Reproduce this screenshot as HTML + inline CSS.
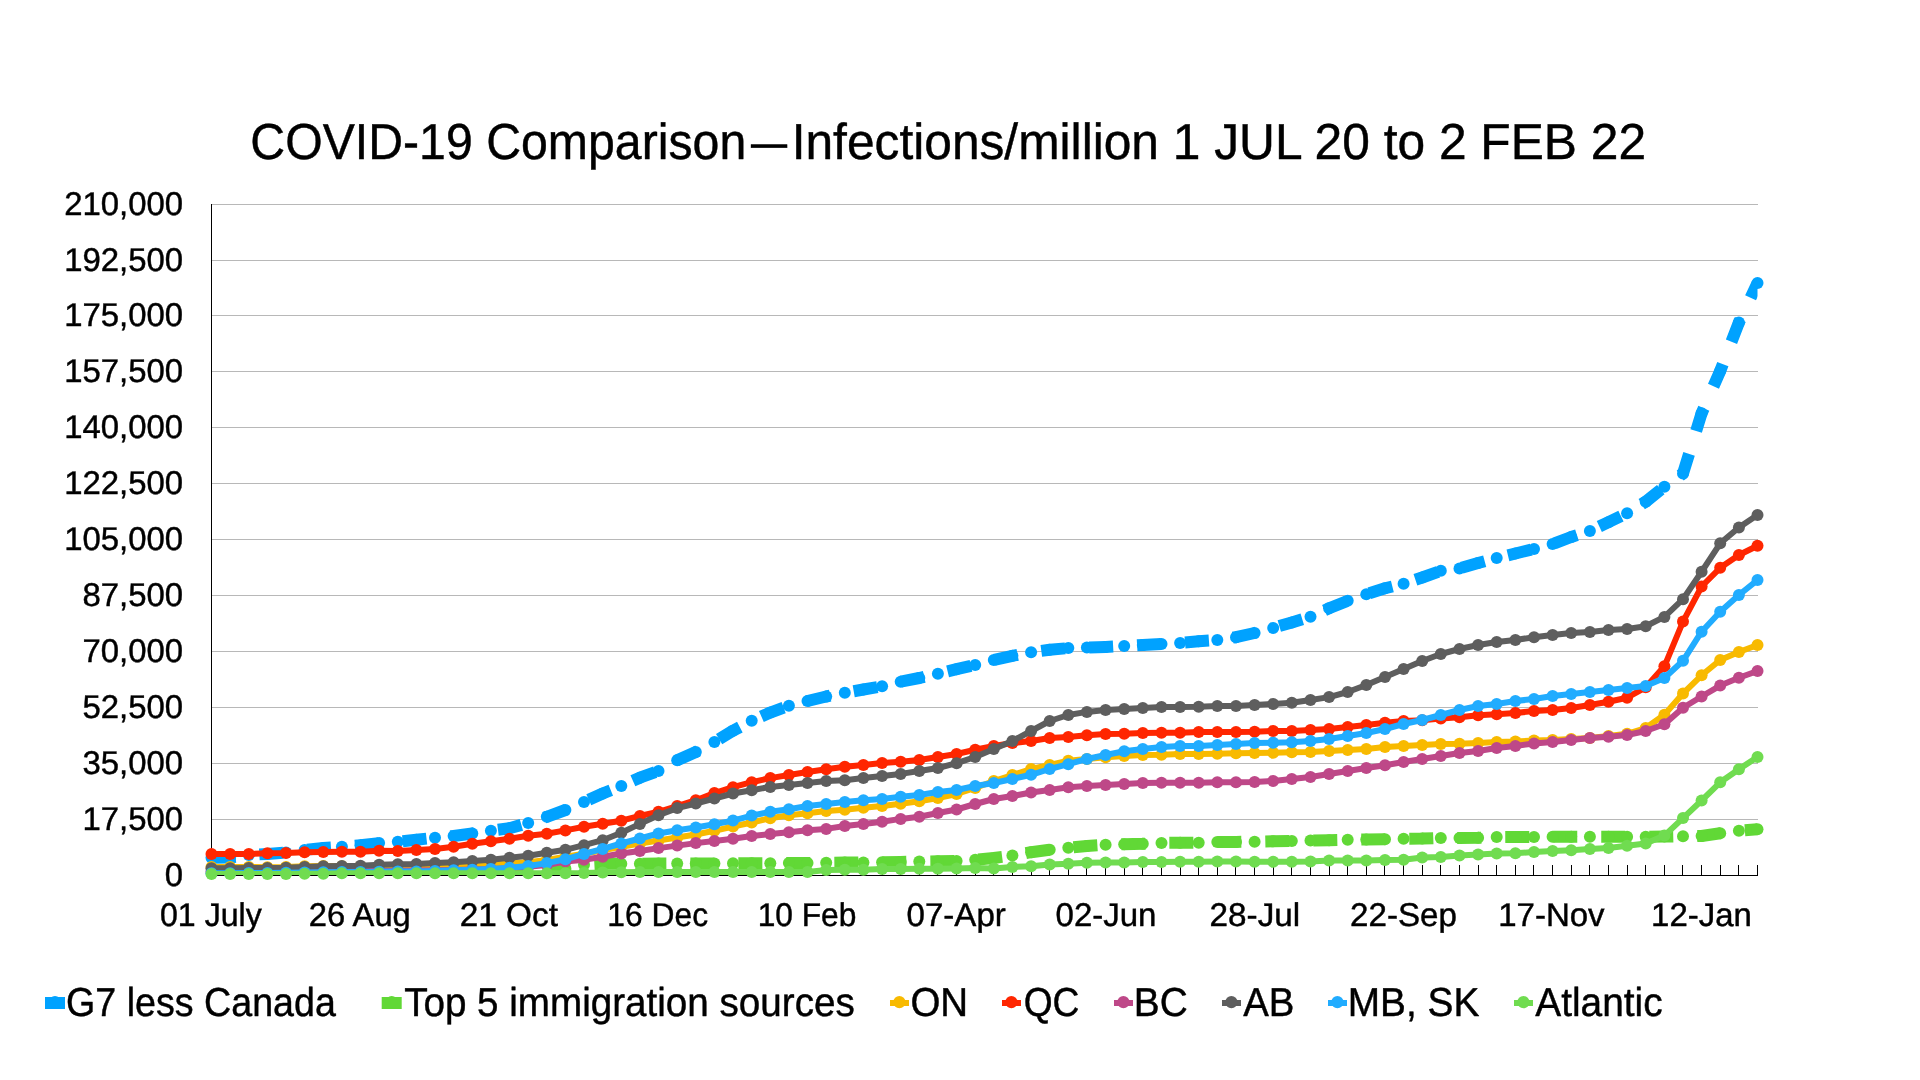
<!DOCTYPE html>
<html lang="en"><head><meta charset="utf-8"><title>COVID-19 Comparison</title>
<style>html,body{margin:0;padding:0;background:#fff}body{width:1920px;height:1080px;overflow:hidden}svg{display:block;will-change:transform;-webkit-font-smoothing:antialiased}text{font-family:"Liberation Sans",Arial,Helvetica,sans-serif;fill:#000;stroke:#000;stroke-width:.45px;stroke-linejoin:round;text-rendering:geometricPrecision}</style></head><body>
<svg width="1920" height="1080" viewBox="0 0 1920 1080">
<rect width="1920" height="1080" fill="#fff"/>
<text transform="translate(250.30,159.1) scale(0.9516,1)" font-size="50.7">COVID-19 Comparison</text>
<text transform="translate(751.00,159.1) scale(0.7122,1)" font-size="50.7">—</text>
<text transform="translate(791.66,159.1) scale(0.9804,1)" font-size="50.7">Infections/million 1 JUL 20 to 2 FEB 22</text>
<g fill="#b8b8b8" shape-rendering="crispEdges">
<rect x="212" y="204" width="1546" height="1"/>
<rect x="212" y="260" width="1546" height="1"/>
<rect x="212" y="315" width="1546" height="1"/>
<rect x="212" y="371" width="1546" height="1"/>
<rect x="212" y="427" width="1546" height="1"/>
<rect x="212" y="483" width="1546" height="1"/>
<rect x="212" y="539" width="1546" height="1"/>
<rect x="212" y="595" width="1546" height="1"/>
<rect x="212" y="651" width="1546" height="1"/>
<rect x="212" y="707" width="1546" height="1"/>
<rect x="212" y="763" width="1546" height="1"/>
<rect x="212" y="819" width="1546" height="1"/>
</g>
<text x="64.19" y="215.1" font-size="32.9">210,000</text>
<text x="64.19" y="271.1" font-size="32.9">192,500</text>
<text x="64.19" y="326.1" font-size="32.9">175,000</text>
<text x="64.19" y="382.1" font-size="32.9">157,500</text>
<text x="64.19" y="438.1" font-size="32.9">140,000</text>
<text x="64.19" y="494.1" font-size="32.9">122,500</text>
<text x="64.19" y="550.1" font-size="32.9">105,000</text>
<text x="82.49" y="606.1" font-size="32.9">87,500</text>
<text x="82.49" y="662.1" font-size="32.9">70,000</text>
<text x="82.49" y="718.1" font-size="32.9">52,500</text>
<text x="82.49" y="774.1" font-size="32.9">35,000</text>
<text x="82.49" y="830.1" font-size="32.9">17,500</text>
<text x="164.79" y="886.1" font-size="32.9">0</text>
<g fill="#000" shape-rendering="crispEdges">
<rect x="211" y="204" width="1" height="672"/>
<rect x="211" y="875" width="1547" height="1"/>
<rect x="230" y="865" width="1" height="10"/>
<rect x="248" y="865" width="1" height="10"/>
<rect x="267" y="865" width="1" height="10"/>
<rect x="286" y="865" width="1" height="10"/>
<rect x="304" y="865" width="1" height="10"/>
<rect x="323" y="865" width="1" height="10"/>
<rect x="341" y="865" width="1" height="10"/>
<rect x="360" y="865" width="1" height="10"/>
<rect x="379" y="865" width="1" height="10"/>
<rect x="397" y="865" width="1" height="10"/>
<rect x="416" y="865" width="1" height="10"/>
<rect x="435" y="865" width="1" height="10"/>
<rect x="453" y="865" width="1" height="10"/>
<rect x="472" y="865" width="1" height="10"/>
<rect x="490" y="865" width="1" height="10"/>
<rect x="509" y="865" width="1" height="10"/>
<rect x="528" y="865" width="1" height="10"/>
<rect x="546" y="865" width="1" height="10"/>
<rect x="565" y="865" width="1" height="10"/>
<rect x="584" y="865" width="1" height="10"/>
<rect x="602" y="865" width="1" height="10"/>
<rect x="621" y="865" width="1" height="10"/>
<rect x="639" y="865" width="1" height="10"/>
<rect x="658" y="865" width="1" height="10"/>
<rect x="677" y="865" width="1" height="10"/>
<rect x="695" y="865" width="1" height="10"/>
<rect x="714" y="865" width="1" height="10"/>
<rect x="733" y="865" width="1" height="10"/>
<rect x="751" y="865" width="1" height="10"/>
<rect x="770" y="865" width="1" height="10"/>
<rect x="788" y="865" width="1" height="10"/>
<rect x="807" y="865" width="1" height="10"/>
<rect x="826" y="865" width="1" height="10"/>
<rect x="844" y="865" width="1" height="10"/>
<rect x="863" y="865" width="1" height="10"/>
<rect x="882" y="865" width="1" height="10"/>
<rect x="900" y="865" width="1" height="10"/>
<rect x="919" y="865" width="1" height="10"/>
<rect x="937" y="865" width="1" height="10"/>
<rect x="956" y="865" width="1" height="10"/>
<rect x="975" y="865" width="1" height="10"/>
<rect x="993" y="865" width="1" height="10"/>
<rect x="1012" y="865" width="1" height="10"/>
<rect x="1031" y="865" width="1" height="10"/>
<rect x="1049" y="865" width="1" height="10"/>
<rect x="1068" y="865" width="1" height="10"/>
<rect x="1086" y="865" width="1" height="10"/>
<rect x="1105" y="865" width="1" height="10"/>
<rect x="1124" y="865" width="1" height="10"/>
<rect x="1142" y="865" width="1" height="10"/>
<rect x="1161" y="865" width="1" height="10"/>
<rect x="1180" y="865" width="1" height="10"/>
<rect x="1198" y="865" width="1" height="10"/>
<rect x="1217" y="865" width="1" height="10"/>
<rect x="1235" y="865" width="1" height="10"/>
<rect x="1254" y="865" width="1" height="10"/>
<rect x="1273" y="865" width="1" height="10"/>
<rect x="1291" y="865" width="1" height="10"/>
<rect x="1310" y="865" width="1" height="10"/>
<rect x="1329" y="865" width="1" height="10"/>
<rect x="1347" y="865" width="1" height="10"/>
<rect x="1366" y="865" width="1" height="10"/>
<rect x="1384" y="865" width="1" height="10"/>
<rect x="1403" y="865" width="1" height="10"/>
<rect x="1422" y="865" width="1" height="10"/>
<rect x="1440" y="865" width="1" height="10"/>
<rect x="1459" y="865" width="1" height="10"/>
<rect x="1478" y="865" width="1" height="10"/>
<rect x="1496" y="865" width="1" height="10"/>
<rect x="1515" y="865" width="1" height="10"/>
<rect x="1533" y="865" width="1" height="10"/>
<rect x="1552" y="865" width="1" height="10"/>
<rect x="1571" y="865" width="1" height="10"/>
<rect x="1589" y="865" width="1" height="10"/>
<rect x="1608" y="865" width="1" height="10"/>
<rect x="1627" y="865" width="1" height="10"/>
<rect x="1645" y="865" width="1" height="10"/>
<rect x="1664" y="865" width="1" height="10"/>
<rect x="1682" y="865" width="1" height="10"/>
<rect x="1701" y="865" width="1" height="10"/>
<rect x="1720" y="865" width="1" height="10"/>
<rect x="1738" y="865" width="1" height="10"/>
<rect x="1757" y="865" width="1" height="10"/>
</g>
<text transform="translate(159.99,926) scale(0.9770,1)" font-size="32.9">01 July</text>
<text transform="translate(308.87,926) scale(0.9953,1)" font-size="32.9">26 Aug</text>
<text transform="translate(459.72,926) scale(1.0132,1)" font-size="32.9">21 Oct</text>
<text transform="translate(607.36,926) scale(0.9669,1)" font-size="32.9">16 Dec</text>
<text transform="translate(757.63,926) scale(0.9644,1)" font-size="32.9">10 Feb</text>
<text transform="translate(906.52,926) scale(1.0063,1)" font-size="32.9">07-Apr</text>
<text transform="translate(1055.53,926) scale(1.0037,1)" font-size="32.9">02-Jun</text>
<text transform="translate(1209.53,926) scale(1.0119,1)" font-size="32.9">28-Jul</text>
<text transform="translate(1350.06,926) scale(1.0071,1)" font-size="32.9">22-Sep</text>
<text transform="translate(1498.19,926) scale(1.0038,1)" font-size="32.9">17-Nov</text>
<text transform="translate(1651.06,926) scale(1.0018,1)" font-size="32.9">12-Jan</text>
<clipPath id="pc"><rect x="211.5" y="184.5" width="1546.0" height="690.5"/></clipPath>
<g fill="#00a2ff"><polyline points="211.5,857.7 230.1,857.5 248.8,855.0 267.4,853.9 286.0,852.5 304.6,849.9 323.3,848.0 341.9,846.8 360.5,845.3 379.1,843.1 397.8,841.8 416.4,839.8 435.0,837.7 453.6,836.0 472.3,833.5 490.9,830.7 509.5,828.3 528.2,822.9 546.8,816.8 565.4,810.0 584.0,802.0 602.7,793.5 621.3,786.0 639.9,777.7 658.5,771.0 677.2,760.3 695.8,752.0 714.4,742.0 733.0,730.7 751.7,720.8 770.3,712.6 788.9,705.8 807.5,701.0 826.2,696.5 844.8,692.8 863.4,689.5 882.1,686.2 900.7,681.7 919.3,678.0 937.9,673.8 956.6,669.2 975.2,665.0 993.8,660.0 1012.4,655.8 1031.1,652.2 1049.7,649.7 1068.3,648.1 1086.9,647.6 1105.6,647.0 1124.2,646.0 1142.8,644.9 1161.5,644.0 1180.1,642.9 1198.7,641.3 1217.3,640.0 1236.0,637.2 1254.6,633.0 1273.2,627.9 1291.8,622.4 1310.5,616.7 1329.1,608.3 1347.7,600.8 1366.3,594.2 1385.0,588.3 1403.6,583.7 1422.2,577.5 1440.8,570.8 1459.5,568.5 1478.1,563.0 1496.7,558.0 1515.4,553.5 1534.0,549.0 1552.6,544.0 1571.2,537.0 1589.9,531.0 1608.5,522.2 1627.1,513.2 1645.7,501.7 1664.4,486.7 1683.0,473.5 1701.6,413.3 1720.2,371.0 1738.9,322.5 1757.5,283.1" fill="none" stroke="#00a2ff" stroke-width="12" stroke-linejoin="round" stroke-dasharray="24 24" clip-path="url(#pc)"/>
<circle cx="211.5" cy="857.7" r="6"/><circle cx="230.1" cy="857.5" r="6"/><circle cx="248.8" cy="855.0" r="6"/><circle cx="267.4" cy="853.9" r="6"/><circle cx="286.0" cy="852.5" r="6"/><circle cx="304.6" cy="849.9" r="6"/><circle cx="323.3" cy="848.0" r="6"/><circle cx="341.9" cy="846.8" r="6"/><circle cx="360.5" cy="845.3" r="6"/><circle cx="379.1" cy="843.1" r="6"/><circle cx="397.8" cy="841.8" r="6"/><circle cx="416.4" cy="839.8" r="6"/><circle cx="435.0" cy="837.7" r="6"/><circle cx="453.6" cy="836.0" r="6"/><circle cx="472.3" cy="833.5" r="6"/><circle cx="490.9" cy="830.7" r="6"/><circle cx="509.5" cy="828.3" r="6"/><circle cx="528.2" cy="822.9" r="6"/><circle cx="546.8" cy="816.8" r="6"/><circle cx="565.4" cy="810.0" r="6"/><circle cx="584.0" cy="802.0" r="6"/><circle cx="602.7" cy="793.5" r="6"/><circle cx="621.3" cy="786.0" r="6"/><circle cx="639.9" cy="777.7" r="6"/><circle cx="658.5" cy="771.0" r="6"/><circle cx="677.2" cy="760.3" r="6"/><circle cx="695.8" cy="752.0" r="6"/><circle cx="714.4" cy="742.0" r="6"/><circle cx="733.0" cy="730.7" r="6"/><circle cx="751.7" cy="720.8" r="6"/><circle cx="770.3" cy="712.6" r="6"/><circle cx="788.9" cy="705.8" r="6"/><circle cx="807.5" cy="701.0" r="6"/><circle cx="826.2" cy="696.5" r="6"/><circle cx="844.8" cy="692.8" r="6"/><circle cx="863.4" cy="689.5" r="6"/><circle cx="882.1" cy="686.2" r="6"/><circle cx="900.7" cy="681.7" r="6"/><circle cx="919.3" cy="678.0" r="6"/><circle cx="937.9" cy="673.8" r="6"/><circle cx="956.6" cy="669.2" r="6"/><circle cx="975.2" cy="665.0" r="6"/><circle cx="993.8" cy="660.0" r="6"/><circle cx="1012.4" cy="655.8" r="6"/><circle cx="1031.1" cy="652.2" r="6"/><circle cx="1049.7" cy="649.7" r="6"/><circle cx="1068.3" cy="648.1" r="6"/><circle cx="1086.9" cy="647.6" r="6"/><circle cx="1105.6" cy="647.0" r="6"/><circle cx="1124.2" cy="646.0" r="6"/><circle cx="1142.8" cy="644.9" r="6"/><circle cx="1161.5" cy="644.0" r="6"/><circle cx="1180.1" cy="642.9" r="6"/><circle cx="1198.7" cy="641.3" r="6"/><circle cx="1217.3" cy="640.0" r="6"/><circle cx="1236.0" cy="637.2" r="6"/><circle cx="1254.6" cy="633.0" r="6"/><circle cx="1273.2" cy="627.9" r="6"/><circle cx="1291.8" cy="622.4" r="6"/><circle cx="1310.5" cy="616.7" r="6"/><circle cx="1329.1" cy="608.3" r="6"/><circle cx="1347.7" cy="600.8" r="6"/><circle cx="1366.3" cy="594.2" r="6"/><circle cx="1385.0" cy="588.3" r="6"/><circle cx="1403.6" cy="583.7" r="6"/><circle cx="1422.2" cy="577.5" r="6"/><circle cx="1440.8" cy="570.8" r="6"/><circle cx="1459.5" cy="568.5" r="6"/><circle cx="1478.1" cy="563.0" r="6"/><circle cx="1496.7" cy="558.0" r="6"/><circle cx="1515.4" cy="553.5" r="6"/><circle cx="1534.0" cy="549.0" r="6"/><circle cx="1552.6" cy="544.0" r="6"/><circle cx="1571.2" cy="537.0" r="6"/><circle cx="1589.9" cy="531.0" r="6"/><circle cx="1608.5" cy="522.2" r="6"/><circle cx="1627.1" cy="513.2" r="6"/><circle cx="1645.7" cy="501.7" r="6"/><circle cx="1664.4" cy="486.7" r="6"/><circle cx="1683.0" cy="473.5" r="6"/><circle cx="1701.6" cy="413.3" r="6"/><circle cx="1720.2" cy="371.0" r="6"/><circle cx="1738.9" cy="322.5" r="6"/><circle cx="1757.5" cy="283.1" r="6"/>
</g>
<g fill="#61d836"><polyline points="211.5,875.5 230.1,875.5 248.8,875.5 267.4,875.5 286.0,875.5 304.6,875.5 323.3,875.5 341.9,875.5 360.5,875.5 379.1,875.5 397.8,875.5 416.4,875.5 435.0,875.5 453.6,875.5 472.3,875.5 490.9,875.5 509.5,875.5 528.2,875.5 546.8,873.5 565.4,868.8 584.0,864.8 602.7,863.8 621.3,863.8 639.9,863.7 658.5,863.6 677.2,863.5 695.8,863.5 714.4,863.4 733.0,863.3 751.7,863.2 770.3,863.2 788.9,863.1 807.5,863.0 826.2,862.8 844.8,862.6 863.4,862.4 882.1,862.2 900.7,861.9 919.3,861.5 937.9,861.3 956.6,861.0 975.2,859.8 993.8,858.0 1012.4,855.6 1031.1,852.2 1049.7,849.8 1068.3,847.8 1086.9,846.0 1105.6,844.8 1124.2,844.2 1142.8,843.8 1161.5,842.9 1180.1,842.8 1198.7,842.7 1217.3,842.0 1236.0,841.9 1254.6,841.7 1273.2,841.3 1291.8,841.0 1310.5,840.6 1329.1,840.2 1347.7,839.8 1366.3,839.5 1385.0,839.3 1403.6,838.8 1422.2,838.6 1440.8,837.9 1459.5,837.9 1478.1,837.8 1496.7,837.0 1515.4,836.9 1534.0,836.9 1552.6,836.7 1571.2,836.7 1589.9,836.7 1608.5,836.7 1627.1,836.7 1645.7,836.7 1664.4,836.6 1683.0,836.2 1701.6,836.0 1720.2,833.2 1738.9,830.7 1757.5,829.3" fill="none" stroke="#61d836" stroke-width="12" stroke-linejoin="round" stroke-dasharray="24 24" clip-path="url(#pc)"/>
<circle cx="565.4" cy="868.8" r="6"/><circle cx="584.0" cy="864.8" r="6"/><circle cx="602.7" cy="863.8" r="6"/><circle cx="621.3" cy="863.8" r="6"/><circle cx="639.9" cy="863.7" r="6"/><circle cx="658.5" cy="863.6" r="6"/><circle cx="677.2" cy="863.5" r="6"/><circle cx="695.8" cy="863.5" r="6"/><circle cx="714.4" cy="863.4" r="6"/><circle cx="733.0" cy="863.3" r="6"/><circle cx="751.7" cy="863.2" r="6"/><circle cx="770.3" cy="863.2" r="6"/><circle cx="788.9" cy="863.1" r="6"/><circle cx="807.5" cy="863.0" r="6"/><circle cx="826.2" cy="862.8" r="6"/><circle cx="844.8" cy="862.6" r="6"/><circle cx="863.4" cy="862.4" r="6"/><circle cx="882.1" cy="862.2" r="6"/><circle cx="900.7" cy="861.9" r="6"/><circle cx="919.3" cy="861.5" r="6"/><circle cx="937.9" cy="861.3" r="6"/><circle cx="956.6" cy="861.0" r="6"/><circle cx="975.2" cy="859.8" r="6"/><circle cx="993.8" cy="858.0" r="6"/><circle cx="1012.4" cy="855.6" r="6"/><circle cx="1031.1" cy="852.2" r="6"/><circle cx="1049.7" cy="849.8" r="6"/><circle cx="1068.3" cy="847.8" r="6"/><circle cx="1086.9" cy="846.0" r="6"/><circle cx="1105.6" cy="844.8" r="6"/><circle cx="1124.2" cy="844.2" r="6"/><circle cx="1142.8" cy="843.8" r="6"/><circle cx="1161.5" cy="842.9" r="6"/><circle cx="1180.1" cy="842.8" r="6"/><circle cx="1198.7" cy="842.7" r="6"/><circle cx="1217.3" cy="842.0" r="6"/><circle cx="1236.0" cy="841.9" r="6"/><circle cx="1254.6" cy="841.7" r="6"/><circle cx="1273.2" cy="841.3" r="6"/><circle cx="1291.8" cy="841.0" r="6"/><circle cx="1310.5" cy="840.6" r="6"/><circle cx="1329.1" cy="840.2" r="6"/><circle cx="1347.7" cy="839.8" r="6"/><circle cx="1366.3" cy="839.5" r="6"/><circle cx="1385.0" cy="839.3" r="6"/><circle cx="1403.6" cy="838.8" r="6"/><circle cx="1422.2" cy="838.6" r="6"/><circle cx="1440.8" cy="837.9" r="6"/><circle cx="1459.5" cy="837.9" r="6"/><circle cx="1478.1" cy="837.8" r="6"/><circle cx="1496.7" cy="837.0" r="6"/><circle cx="1515.4" cy="836.9" r="6"/><circle cx="1534.0" cy="836.9" r="6"/><circle cx="1552.6" cy="836.7" r="6"/><circle cx="1571.2" cy="836.7" r="6"/><circle cx="1589.9" cy="836.7" r="6"/><circle cx="1608.5" cy="836.7" r="6"/><circle cx="1627.1" cy="836.7" r="6"/><circle cx="1645.7" cy="836.7" r="6"/><circle cx="1664.4" cy="836.6" r="6"/><circle cx="1683.0" cy="836.2" r="6"/><circle cx="1701.6" cy="836.0" r="6"/><circle cx="1720.2" cy="833.2" r="6"/><circle cx="1738.9" cy="830.7" r="6"/><circle cx="1757.5" cy="829.3" r="6"/>
</g>
<g fill="#f8ba00"><polyline points="211.5,867.0 230.1,867.0 248.8,867.0 267.4,867.2 286.0,867.0 304.6,866.3 323.3,866.0 341.9,866.3 360.5,866.5 379.1,866.5 397.8,866.5 416.4,866.3 435.0,866.0 453.6,865.2 472.3,864.5 490.9,863.9 509.5,863.3 528.2,862.2 546.8,860.0 565.4,856.8 584.0,853.8 602.7,850.3 621.3,846.8 639.9,843.5 658.5,840.5 677.2,837.5 695.8,834.5 714.4,830.8 733.0,826.5 751.7,822.5 770.3,818.2 788.9,815.2 807.5,813.2 826.2,811.1 844.8,809.8 863.4,807.8 882.1,806.1 900.7,803.8 919.3,801.2 937.9,798.0 956.6,794.0 975.2,788.0 993.8,781.0 1012.4,775.0 1031.1,769.0 1049.7,765.0 1068.3,760.8 1086.9,759.0 1105.6,757.3 1124.2,756.0 1142.8,755.0 1161.5,754.8 1180.1,754.0 1198.7,754.0 1217.3,753.8 1236.0,753.2 1254.6,753.0 1273.2,752.8 1291.8,752.2 1310.5,752.0 1329.1,751.0 1347.7,750.0 1366.3,749.0 1385.0,747.0 1403.6,746.0 1422.2,745.0 1440.8,744.0 1459.5,743.8 1478.1,743.0 1496.7,742.0 1515.4,741.5 1534.0,740.5 1552.6,740.0 1571.2,739.0 1589.9,738.0 1608.5,736.0 1627.1,733.8 1645.7,728.0 1664.4,714.8 1683.0,693.5 1701.6,675.3 1720.2,660.0 1738.9,652.0 1757.5,645.0" fill="none" stroke="#f8ba00" stroke-width="6" stroke-linejoin="round" clip-path="url(#pc)"/>
<circle cx="211.5" cy="867.0" r="6"/><circle cx="230.1" cy="867.0" r="6"/><circle cx="248.8" cy="867.0" r="6"/><circle cx="267.4" cy="867.2" r="6"/><circle cx="286.0" cy="867.0" r="6"/><circle cx="304.6" cy="866.3" r="6"/><circle cx="323.3" cy="866.0" r="6"/><circle cx="341.9" cy="866.3" r="6"/><circle cx="360.5" cy="866.5" r="6"/><circle cx="379.1" cy="866.5" r="6"/><circle cx="397.8" cy="866.5" r="6"/><circle cx="416.4" cy="866.3" r="6"/><circle cx="435.0" cy="866.0" r="6"/><circle cx="453.6" cy="865.2" r="6"/><circle cx="472.3" cy="864.5" r="6"/><circle cx="490.9" cy="863.9" r="6"/><circle cx="509.5" cy="863.3" r="6"/><circle cx="528.2" cy="862.2" r="6"/><circle cx="546.8" cy="860.0" r="6"/><circle cx="565.4" cy="856.8" r="6"/><circle cx="584.0" cy="853.8" r="6"/><circle cx="602.7" cy="850.3" r="6"/><circle cx="621.3" cy="846.8" r="6"/><circle cx="639.9" cy="843.5" r="6"/><circle cx="658.5" cy="840.5" r="6"/><circle cx="677.2" cy="837.5" r="6"/><circle cx="695.8" cy="834.5" r="6"/><circle cx="714.4" cy="830.8" r="6"/><circle cx="733.0" cy="826.5" r="6"/><circle cx="751.7" cy="822.5" r="6"/><circle cx="770.3" cy="818.2" r="6"/><circle cx="788.9" cy="815.2" r="6"/><circle cx="807.5" cy="813.2" r="6"/><circle cx="826.2" cy="811.1" r="6"/><circle cx="844.8" cy="809.8" r="6"/><circle cx="863.4" cy="807.8" r="6"/><circle cx="882.1" cy="806.1" r="6"/><circle cx="900.7" cy="803.8" r="6"/><circle cx="919.3" cy="801.2" r="6"/><circle cx="937.9" cy="798.0" r="6"/><circle cx="956.6" cy="794.0" r="6"/><circle cx="975.2" cy="788.0" r="6"/><circle cx="993.8" cy="781.0" r="6"/><circle cx="1012.4" cy="775.0" r="6"/><circle cx="1031.1" cy="769.0" r="6"/><circle cx="1049.7" cy="765.0" r="6"/><circle cx="1068.3" cy="760.8" r="6"/><circle cx="1086.9" cy="759.0" r="6"/><circle cx="1105.6" cy="757.3" r="6"/><circle cx="1124.2" cy="756.0" r="6"/><circle cx="1142.8" cy="755.0" r="6"/><circle cx="1161.5" cy="754.8" r="6"/><circle cx="1180.1" cy="754.0" r="6"/><circle cx="1198.7" cy="754.0" r="6"/><circle cx="1217.3" cy="753.8" r="6"/><circle cx="1236.0" cy="753.2" r="6"/><circle cx="1254.6" cy="753.0" r="6"/><circle cx="1273.2" cy="752.8" r="6"/><circle cx="1291.8" cy="752.2" r="6"/><circle cx="1310.5" cy="752.0" r="6"/><circle cx="1329.1" cy="751.0" r="6"/><circle cx="1347.7" cy="750.0" r="6"/><circle cx="1366.3" cy="749.0" r="6"/><circle cx="1385.0" cy="747.0" r="6"/><circle cx="1403.6" cy="746.0" r="6"/><circle cx="1422.2" cy="745.0" r="6"/><circle cx="1440.8" cy="744.0" r="6"/><circle cx="1459.5" cy="743.8" r="6"/><circle cx="1478.1" cy="743.0" r="6"/><circle cx="1496.7" cy="742.0" r="6"/><circle cx="1515.4" cy="741.5" r="6"/><circle cx="1534.0" cy="740.5" r="6"/><circle cx="1552.6" cy="740.0" r="6"/><circle cx="1571.2" cy="739.0" r="6"/><circle cx="1589.9" cy="738.0" r="6"/><circle cx="1608.5" cy="736.0" r="6"/><circle cx="1627.1" cy="733.8" r="6"/><circle cx="1645.7" cy="728.0" r="6"/><circle cx="1664.4" cy="714.8" r="6"/><circle cx="1683.0" cy="693.5" r="6"/><circle cx="1701.6" cy="675.3" r="6"/><circle cx="1720.2" cy="660.0" r="6"/><circle cx="1738.9" cy="652.0" r="6"/><circle cx="1757.5" cy="645.0" r="6"/>
</g>
<g fill="#ff2600"><polyline points="211.5,853.9 230.1,854.0 248.8,854.0 267.4,853.2 286.0,853.0 304.6,852.2 323.3,852.0 341.9,851.7 360.5,851.7 379.1,850.8 397.8,851.0 416.4,850.0 435.0,848.9 453.6,846.8 472.3,843.8 490.9,841.2 509.5,838.8 528.2,835.8 546.8,833.8 565.4,830.4 584.0,826.7 602.7,823.8 621.3,820.7 639.9,816.0 658.5,811.8 677.2,806.0 695.8,800.2 714.4,793.1 733.0,787.2 751.7,782.2 770.3,778.1 788.9,775.0 807.5,772.0 826.2,769.2 844.8,766.8 863.4,765.0 882.1,763.1 900.7,761.8 919.3,760.0 937.9,757.0 956.6,754.0 975.2,749.8 993.8,746.0 1012.4,743.0 1031.1,741.0 1049.7,738.0 1068.3,737.0 1086.9,735.3 1105.6,734.0 1124.2,733.8 1142.8,733.0 1161.5,732.8 1180.1,732.8 1198.7,732.0 1217.3,732.0 1236.0,732.0 1254.6,731.8 1273.2,731.0 1291.8,731.0 1310.5,730.0 1329.1,729.0 1347.7,727.0 1366.3,725.0 1385.0,722.8 1403.6,721.0 1422.2,720.3 1440.8,718.5 1459.5,717.2 1478.1,715.3 1496.7,714.2 1515.4,713.0 1534.0,711.0 1552.6,710.0 1571.2,708.0 1589.9,705.0 1608.5,701.7 1627.1,697.7 1645.7,687.3 1664.4,666.3 1683.0,621.6 1701.6,586.5 1720.2,567.8 1738.9,555.0 1757.5,545.8" fill="none" stroke="#ff2600" stroke-width="6" stroke-linejoin="round" clip-path="url(#pc)"/>
<circle cx="211.5" cy="853.9" r="6"/><circle cx="230.1" cy="854.0" r="6"/><circle cx="248.8" cy="854.0" r="6"/><circle cx="267.4" cy="853.2" r="6"/><circle cx="286.0" cy="853.0" r="6"/><circle cx="304.6" cy="852.2" r="6"/><circle cx="323.3" cy="852.0" r="6"/><circle cx="341.9" cy="851.7" r="6"/><circle cx="360.5" cy="851.7" r="6"/><circle cx="379.1" cy="850.8" r="6"/><circle cx="397.8" cy="851.0" r="6"/><circle cx="416.4" cy="850.0" r="6"/><circle cx="435.0" cy="848.9" r="6"/><circle cx="453.6" cy="846.8" r="6"/><circle cx="472.3" cy="843.8" r="6"/><circle cx="490.9" cy="841.2" r="6"/><circle cx="509.5" cy="838.8" r="6"/><circle cx="528.2" cy="835.8" r="6"/><circle cx="546.8" cy="833.8" r="6"/><circle cx="565.4" cy="830.4" r="6"/><circle cx="584.0" cy="826.7" r="6"/><circle cx="602.7" cy="823.8" r="6"/><circle cx="621.3" cy="820.7" r="6"/><circle cx="639.9" cy="816.0" r="6"/><circle cx="658.5" cy="811.8" r="6"/><circle cx="677.2" cy="806.0" r="6"/><circle cx="695.8" cy="800.2" r="6"/><circle cx="714.4" cy="793.1" r="6"/><circle cx="733.0" cy="787.2" r="6"/><circle cx="751.7" cy="782.2" r="6"/><circle cx="770.3" cy="778.1" r="6"/><circle cx="788.9" cy="775.0" r="6"/><circle cx="807.5" cy="772.0" r="6"/><circle cx="826.2" cy="769.2" r="6"/><circle cx="844.8" cy="766.8" r="6"/><circle cx="863.4" cy="765.0" r="6"/><circle cx="882.1" cy="763.1" r="6"/><circle cx="900.7" cy="761.8" r="6"/><circle cx="919.3" cy="760.0" r="6"/><circle cx="937.9" cy="757.0" r="6"/><circle cx="956.6" cy="754.0" r="6"/><circle cx="975.2" cy="749.8" r="6"/><circle cx="993.8" cy="746.0" r="6"/><circle cx="1012.4" cy="743.0" r="6"/><circle cx="1031.1" cy="741.0" r="6"/><circle cx="1049.7" cy="738.0" r="6"/><circle cx="1068.3" cy="737.0" r="6"/><circle cx="1086.9" cy="735.3" r="6"/><circle cx="1105.6" cy="734.0" r="6"/><circle cx="1124.2" cy="733.8" r="6"/><circle cx="1142.8" cy="733.0" r="6"/><circle cx="1161.5" cy="732.8" r="6"/><circle cx="1180.1" cy="732.8" r="6"/><circle cx="1198.7" cy="732.0" r="6"/><circle cx="1217.3" cy="732.0" r="6"/><circle cx="1236.0" cy="732.0" r="6"/><circle cx="1254.6" cy="731.8" r="6"/><circle cx="1273.2" cy="731.0" r="6"/><circle cx="1291.8" cy="731.0" r="6"/><circle cx="1310.5" cy="730.0" r="6"/><circle cx="1329.1" cy="729.0" r="6"/><circle cx="1347.7" cy="727.0" r="6"/><circle cx="1366.3" cy="725.0" r="6"/><circle cx="1385.0" cy="722.8" r="6"/><circle cx="1403.6" cy="721.0" r="6"/><circle cx="1422.2" cy="720.3" r="6"/><circle cx="1440.8" cy="718.5" r="6"/><circle cx="1459.5" cy="717.2" r="6"/><circle cx="1478.1" cy="715.3" r="6"/><circle cx="1496.7" cy="714.2" r="6"/><circle cx="1515.4" cy="713.0" r="6"/><circle cx="1534.0" cy="711.0" r="6"/><circle cx="1552.6" cy="710.0" r="6"/><circle cx="1571.2" cy="708.0" r="6"/><circle cx="1589.9" cy="705.0" r="6"/><circle cx="1608.5" cy="701.7" r="6"/><circle cx="1627.1" cy="697.7" r="6"/><circle cx="1645.7" cy="687.3" r="6"/><circle cx="1664.4" cy="666.3" r="6"/><circle cx="1683.0" cy="621.6" r="6"/><circle cx="1701.6" cy="586.5" r="6"/><circle cx="1720.2" cy="567.8" r="6"/><circle cx="1738.9" cy="555.0" r="6"/><circle cx="1757.5" cy="545.8" r="6"/>
</g>
<g fill="#be4888"><polyline points="211.5,871.5 230.1,871.5 248.8,871.5 267.4,871.4 286.0,871.3 304.6,871.3 323.3,871.2 341.9,871.1 360.5,871.0 379.1,870.9 397.8,870.7 416.4,870.5 435.0,870.3 453.6,870.0 472.3,869.6 490.9,869.0 509.5,868.3 528.2,866.7 546.8,865.0 565.4,861.5 584.0,859.8 602.7,856.7 621.3,853.5 639.9,851.0 658.5,848.1 677.2,845.6 695.8,843.1 714.4,841.0 733.0,838.7 751.7,836.0 770.3,834.0 788.9,832.2 807.5,830.2 826.2,828.9 844.8,826.0 863.4,823.9 882.1,821.8 900.7,818.9 919.3,816.8 937.9,813.0 956.6,809.5 975.2,804.0 993.8,799.0 1012.4,796.0 1031.1,792.5 1049.7,790.0 1068.3,787.2 1086.9,786.0 1105.6,785.0 1124.2,784.0 1142.8,783.0 1161.5,782.8 1180.1,782.8 1198.7,782.8 1217.3,782.2 1236.0,782.2 1254.6,782.0 1273.2,781.0 1291.8,779.0 1310.5,777.0 1329.1,774.0 1347.7,771.0 1366.3,768.0 1385.0,765.2 1403.6,762.0 1422.2,759.0 1440.8,756.0 1459.5,753.0 1478.1,751.0 1496.7,748.0 1515.4,746.0 1534.0,743.5 1552.6,742.0 1571.2,740.0 1589.9,738.0 1608.5,736.8 1627.1,735.0 1645.7,731.0 1664.4,724.3 1683.0,707.8 1701.6,696.5 1720.2,685.6 1738.9,677.7 1757.5,671.0" fill="none" stroke="#be4888" stroke-width="6" stroke-linejoin="round" clip-path="url(#pc)"/>
<circle cx="211.5" cy="871.5" r="6"/><circle cx="230.1" cy="871.5" r="6"/><circle cx="248.8" cy="871.5" r="6"/><circle cx="267.4" cy="871.4" r="6"/><circle cx="286.0" cy="871.3" r="6"/><circle cx="304.6" cy="871.3" r="6"/><circle cx="323.3" cy="871.2" r="6"/><circle cx="341.9" cy="871.1" r="6"/><circle cx="360.5" cy="871.0" r="6"/><circle cx="379.1" cy="870.9" r="6"/><circle cx="397.8" cy="870.7" r="6"/><circle cx="416.4" cy="870.5" r="6"/><circle cx="435.0" cy="870.3" r="6"/><circle cx="453.6" cy="870.0" r="6"/><circle cx="472.3" cy="869.6" r="6"/><circle cx="490.9" cy="869.0" r="6"/><circle cx="509.5" cy="868.3" r="6"/><circle cx="528.2" cy="866.7" r="6"/><circle cx="546.8" cy="865.0" r="6"/><circle cx="565.4" cy="861.5" r="6"/><circle cx="584.0" cy="859.8" r="6"/><circle cx="602.7" cy="856.7" r="6"/><circle cx="621.3" cy="853.5" r="6"/><circle cx="639.9" cy="851.0" r="6"/><circle cx="658.5" cy="848.1" r="6"/><circle cx="677.2" cy="845.6" r="6"/><circle cx="695.8" cy="843.1" r="6"/><circle cx="714.4" cy="841.0" r="6"/><circle cx="733.0" cy="838.7" r="6"/><circle cx="751.7" cy="836.0" r="6"/><circle cx="770.3" cy="834.0" r="6"/><circle cx="788.9" cy="832.2" r="6"/><circle cx="807.5" cy="830.2" r="6"/><circle cx="826.2" cy="828.9" r="6"/><circle cx="844.8" cy="826.0" r="6"/><circle cx="863.4" cy="823.9" r="6"/><circle cx="882.1" cy="821.8" r="6"/><circle cx="900.7" cy="818.9" r="6"/><circle cx="919.3" cy="816.8" r="6"/><circle cx="937.9" cy="813.0" r="6"/><circle cx="956.6" cy="809.5" r="6"/><circle cx="975.2" cy="804.0" r="6"/><circle cx="993.8" cy="799.0" r="6"/><circle cx="1012.4" cy="796.0" r="6"/><circle cx="1031.1" cy="792.5" r="6"/><circle cx="1049.7" cy="790.0" r="6"/><circle cx="1068.3" cy="787.2" r="6"/><circle cx="1086.9" cy="786.0" r="6"/><circle cx="1105.6" cy="785.0" r="6"/><circle cx="1124.2" cy="784.0" r="6"/><circle cx="1142.8" cy="783.0" r="6"/><circle cx="1161.5" cy="782.8" r="6"/><circle cx="1180.1" cy="782.8" r="6"/><circle cx="1198.7" cy="782.8" r="6"/><circle cx="1217.3" cy="782.2" r="6"/><circle cx="1236.0" cy="782.2" r="6"/><circle cx="1254.6" cy="782.0" r="6"/><circle cx="1273.2" cy="781.0" r="6"/><circle cx="1291.8" cy="779.0" r="6"/><circle cx="1310.5" cy="777.0" r="6"/><circle cx="1329.1" cy="774.0" r="6"/><circle cx="1347.7" cy="771.0" r="6"/><circle cx="1366.3" cy="768.0" r="6"/><circle cx="1385.0" cy="765.2" r="6"/><circle cx="1403.6" cy="762.0" r="6"/><circle cx="1422.2" cy="759.0" r="6"/><circle cx="1440.8" cy="756.0" r="6"/><circle cx="1459.5" cy="753.0" r="6"/><circle cx="1478.1" cy="751.0" r="6"/><circle cx="1496.7" cy="748.0" r="6"/><circle cx="1515.4" cy="746.0" r="6"/><circle cx="1534.0" cy="743.5" r="6"/><circle cx="1552.6" cy="742.0" r="6"/><circle cx="1571.2" cy="740.0" r="6"/><circle cx="1589.9" cy="738.0" r="6"/><circle cx="1608.5" cy="736.8" r="6"/><circle cx="1627.1" cy="735.0" r="6"/><circle cx="1645.7" cy="731.0" r="6"/><circle cx="1664.4" cy="724.3" r="6"/><circle cx="1683.0" cy="707.8" r="6"/><circle cx="1701.6" cy="696.5" r="6"/><circle cx="1720.2" cy="685.6" r="6"/><circle cx="1738.9" cy="677.7" r="6"/><circle cx="1757.5" cy="671.0" r="6"/>
</g>
<g fill="#5e5e5e"><polyline points="211.5,868.3 230.1,868.2 248.8,868.1 267.4,867.9 286.0,867.7 304.6,867.0 323.3,866.3 341.9,866.0 360.5,865.8 379.1,864.8 397.8,864.2 416.4,863.9 435.0,863.1 453.6,862.2 472.3,861.0 490.9,859.8 509.5,857.7 528.2,855.8 546.8,852.7 565.4,849.8 584.0,845.2 602.7,840.2 621.3,832.7 639.9,823.9 658.5,815.2 677.2,808.1 695.8,803.5 714.4,798.5 733.0,793.5 751.7,790.2 770.3,786.9 788.9,785.0 807.5,783.1 826.2,781.0 844.8,780.2 863.4,778.1 882.1,776.0 900.7,773.9 919.3,771.0 937.9,768.0 956.6,763.2 975.2,757.0 993.8,749.0 1012.4,741.0 1031.1,731.0 1049.7,721.0 1068.3,715.0 1086.9,711.9 1105.6,710.0 1124.2,709.0 1142.8,708.0 1161.5,707.0 1180.1,707.0 1198.7,706.8 1217.3,706.0 1236.0,706.0 1254.6,705.0 1273.2,703.9 1291.8,702.8 1310.5,700.0 1329.1,697.1 1347.7,692.0 1366.3,685.0 1385.0,677.0 1403.6,669.0 1422.2,661.0 1440.8,654.0 1459.5,649.0 1478.1,645.0 1496.7,642.0 1515.4,640.0 1534.0,637.2 1552.6,635.0 1571.2,633.0 1589.9,632.0 1608.5,630.0 1627.1,629.0 1645.7,626.3 1664.4,616.9 1683.0,599.2 1701.6,571.7 1720.2,543.3 1738.9,527.5 1757.5,515.0" fill="none" stroke="#5e5e5e" stroke-width="6" stroke-linejoin="round" clip-path="url(#pc)"/>
<circle cx="211.5" cy="868.3" r="6"/><circle cx="230.1" cy="868.2" r="6"/><circle cx="248.8" cy="868.1" r="6"/><circle cx="267.4" cy="867.9" r="6"/><circle cx="286.0" cy="867.7" r="6"/><circle cx="304.6" cy="867.0" r="6"/><circle cx="323.3" cy="866.3" r="6"/><circle cx="341.9" cy="866.0" r="6"/><circle cx="360.5" cy="865.8" r="6"/><circle cx="379.1" cy="864.8" r="6"/><circle cx="397.8" cy="864.2" r="6"/><circle cx="416.4" cy="863.9" r="6"/><circle cx="435.0" cy="863.1" r="6"/><circle cx="453.6" cy="862.2" r="6"/><circle cx="472.3" cy="861.0" r="6"/><circle cx="490.9" cy="859.8" r="6"/><circle cx="509.5" cy="857.7" r="6"/><circle cx="528.2" cy="855.8" r="6"/><circle cx="546.8" cy="852.7" r="6"/><circle cx="565.4" cy="849.8" r="6"/><circle cx="584.0" cy="845.2" r="6"/><circle cx="602.7" cy="840.2" r="6"/><circle cx="621.3" cy="832.7" r="6"/><circle cx="639.9" cy="823.9" r="6"/><circle cx="658.5" cy="815.2" r="6"/><circle cx="677.2" cy="808.1" r="6"/><circle cx="695.8" cy="803.5" r="6"/><circle cx="714.4" cy="798.5" r="6"/><circle cx="733.0" cy="793.5" r="6"/><circle cx="751.7" cy="790.2" r="6"/><circle cx="770.3" cy="786.9" r="6"/><circle cx="788.9" cy="785.0" r="6"/><circle cx="807.5" cy="783.1" r="6"/><circle cx="826.2" cy="781.0" r="6"/><circle cx="844.8" cy="780.2" r="6"/><circle cx="863.4" cy="778.1" r="6"/><circle cx="882.1" cy="776.0" r="6"/><circle cx="900.7" cy="773.9" r="6"/><circle cx="919.3" cy="771.0" r="6"/><circle cx="937.9" cy="768.0" r="6"/><circle cx="956.6" cy="763.2" r="6"/><circle cx="975.2" cy="757.0" r="6"/><circle cx="993.8" cy="749.0" r="6"/><circle cx="1012.4" cy="741.0" r="6"/><circle cx="1031.1" cy="731.0" r="6"/><circle cx="1049.7" cy="721.0" r="6"/><circle cx="1068.3" cy="715.0" r="6"/><circle cx="1086.9" cy="711.9" r="6"/><circle cx="1105.6" cy="710.0" r="6"/><circle cx="1124.2" cy="709.0" r="6"/><circle cx="1142.8" cy="708.0" r="6"/><circle cx="1161.5" cy="707.0" r="6"/><circle cx="1180.1" cy="707.0" r="6"/><circle cx="1198.7" cy="706.8" r="6"/><circle cx="1217.3" cy="706.0" r="6"/><circle cx="1236.0" cy="706.0" r="6"/><circle cx="1254.6" cy="705.0" r="6"/><circle cx="1273.2" cy="703.9" r="6"/><circle cx="1291.8" cy="702.8" r="6"/><circle cx="1310.5" cy="700.0" r="6"/><circle cx="1329.1" cy="697.1" r="6"/><circle cx="1347.7" cy="692.0" r="6"/><circle cx="1366.3" cy="685.0" r="6"/><circle cx="1385.0" cy="677.0" r="6"/><circle cx="1403.6" cy="669.0" r="6"/><circle cx="1422.2" cy="661.0" r="6"/><circle cx="1440.8" cy="654.0" r="6"/><circle cx="1459.5" cy="649.0" r="6"/><circle cx="1478.1" cy="645.0" r="6"/><circle cx="1496.7" cy="642.0" r="6"/><circle cx="1515.4" cy="640.0" r="6"/><circle cx="1534.0" cy="637.2" r="6"/><circle cx="1552.6" cy="635.0" r="6"/><circle cx="1571.2" cy="633.0" r="6"/><circle cx="1589.9" cy="632.0" r="6"/><circle cx="1608.5" cy="630.0" r="6"/><circle cx="1627.1" cy="629.0" r="6"/><circle cx="1645.7" cy="626.3" r="6"/><circle cx="1664.4" cy="616.9" r="6"/><circle cx="1683.0" cy="599.2" r="6"/><circle cx="1701.6" cy="571.7" r="6"/><circle cx="1720.2" cy="543.3" r="6"/><circle cx="1738.9" cy="527.5" r="6"/><circle cx="1757.5" cy="515.0" r="6"/>
</g>
<g fill="#21acff"><polyline points="211.5,873.3 230.1,873.3 248.8,873.1 267.4,873.0 286.0,872.8 304.6,872.5 323.3,872.2 341.9,872.1 360.5,872.0 379.1,871.8 397.8,871.4 416.4,871.4 435.0,871.0 453.6,870.2 472.3,869.8 490.9,868.9 509.5,867.7 528.2,866.0 546.8,863.1 565.4,859.3 584.0,853.9 602.7,848.9 621.3,843.5 639.9,838.5 658.5,833.5 677.2,830.2 695.8,827.5 714.4,824.3 733.0,820.6 751.7,815.6 770.3,811.8 788.9,809.2 807.5,806.0 826.2,803.9 844.8,802.0 863.4,800.2 882.1,798.9 900.7,796.8 919.3,795.0 937.9,792.0 956.6,790.0 975.2,786.0 993.8,783.0 1012.4,779.0 1031.1,774.8 1049.7,769.0 1068.3,764.2 1086.9,759.0 1105.6,755.0 1124.2,751.2 1142.8,749.0 1161.5,747.0 1180.1,746.0 1198.7,746.0 1217.3,745.0 1236.0,744.0 1254.6,743.0 1273.2,742.7 1291.8,742.2 1310.5,741.0 1329.1,739.0 1347.7,736.0 1366.3,733.0 1385.0,729.0 1403.6,724.0 1422.2,720.0 1440.8,715.0 1459.5,710.0 1478.1,706.0 1496.7,704.0 1515.4,701.0 1534.0,699.0 1552.6,696.0 1571.2,694.0 1589.9,691.9 1608.5,690.0 1627.1,688.0 1645.7,686.0 1664.4,678.0 1683.0,660.8 1701.6,631.7 1720.2,611.7 1738.9,595.0 1757.5,580.0" fill="none" stroke="#21acff" stroke-width="6" stroke-linejoin="round" clip-path="url(#pc)"/>
<circle cx="211.5" cy="873.3" r="6"/><circle cx="230.1" cy="873.3" r="6"/><circle cx="248.8" cy="873.1" r="6"/><circle cx="267.4" cy="873.0" r="6"/><circle cx="286.0" cy="872.8" r="6"/><circle cx="304.6" cy="872.5" r="6"/><circle cx="323.3" cy="872.2" r="6"/><circle cx="341.9" cy="872.1" r="6"/><circle cx="360.5" cy="872.0" r="6"/><circle cx="379.1" cy="871.8" r="6"/><circle cx="397.8" cy="871.4" r="6"/><circle cx="416.4" cy="871.4" r="6"/><circle cx="435.0" cy="871.0" r="6"/><circle cx="453.6" cy="870.2" r="6"/><circle cx="472.3" cy="869.8" r="6"/><circle cx="490.9" cy="868.9" r="6"/><circle cx="509.5" cy="867.7" r="6"/><circle cx="528.2" cy="866.0" r="6"/><circle cx="546.8" cy="863.1" r="6"/><circle cx="565.4" cy="859.3" r="6"/><circle cx="584.0" cy="853.9" r="6"/><circle cx="602.7" cy="848.9" r="6"/><circle cx="621.3" cy="843.5" r="6"/><circle cx="639.9" cy="838.5" r="6"/><circle cx="658.5" cy="833.5" r="6"/><circle cx="677.2" cy="830.2" r="6"/><circle cx="695.8" cy="827.5" r="6"/><circle cx="714.4" cy="824.3" r="6"/><circle cx="733.0" cy="820.6" r="6"/><circle cx="751.7" cy="815.6" r="6"/><circle cx="770.3" cy="811.8" r="6"/><circle cx="788.9" cy="809.2" r="6"/><circle cx="807.5" cy="806.0" r="6"/><circle cx="826.2" cy="803.9" r="6"/><circle cx="844.8" cy="802.0" r="6"/><circle cx="863.4" cy="800.2" r="6"/><circle cx="882.1" cy="798.9" r="6"/><circle cx="900.7" cy="796.8" r="6"/><circle cx="919.3" cy="795.0" r="6"/><circle cx="937.9" cy="792.0" r="6"/><circle cx="956.6" cy="790.0" r="6"/><circle cx="975.2" cy="786.0" r="6"/><circle cx="993.8" cy="783.0" r="6"/><circle cx="1012.4" cy="779.0" r="6"/><circle cx="1031.1" cy="774.8" r="6"/><circle cx="1049.7" cy="769.0" r="6"/><circle cx="1068.3" cy="764.2" r="6"/><circle cx="1086.9" cy="759.0" r="6"/><circle cx="1105.6" cy="755.0" r="6"/><circle cx="1124.2" cy="751.2" r="6"/><circle cx="1142.8" cy="749.0" r="6"/><circle cx="1161.5" cy="747.0" r="6"/><circle cx="1180.1" cy="746.0" r="6"/><circle cx="1198.7" cy="746.0" r="6"/><circle cx="1217.3" cy="745.0" r="6"/><circle cx="1236.0" cy="744.0" r="6"/><circle cx="1254.6" cy="743.0" r="6"/><circle cx="1273.2" cy="742.7" r="6"/><circle cx="1291.8" cy="742.2" r="6"/><circle cx="1310.5" cy="741.0" r="6"/><circle cx="1329.1" cy="739.0" r="6"/><circle cx="1347.7" cy="736.0" r="6"/><circle cx="1366.3" cy="733.0" r="6"/><circle cx="1385.0" cy="729.0" r="6"/><circle cx="1403.6" cy="724.0" r="6"/><circle cx="1422.2" cy="720.0" r="6"/><circle cx="1440.8" cy="715.0" r="6"/><circle cx="1459.5" cy="710.0" r="6"/><circle cx="1478.1" cy="706.0" r="6"/><circle cx="1496.7" cy="704.0" r="6"/><circle cx="1515.4" cy="701.0" r="6"/><circle cx="1534.0" cy="699.0" r="6"/><circle cx="1552.6" cy="696.0" r="6"/><circle cx="1571.2" cy="694.0" r="6"/><circle cx="1589.9" cy="691.9" r="6"/><circle cx="1608.5" cy="690.0" r="6"/><circle cx="1627.1" cy="688.0" r="6"/><circle cx="1645.7" cy="686.0" r="6"/><circle cx="1664.4" cy="678.0" r="6"/><circle cx="1683.0" cy="660.8" r="6"/><circle cx="1701.6" cy="631.7" r="6"/><circle cx="1720.2" cy="611.7" r="6"/><circle cx="1738.9" cy="595.0" r="6"/><circle cx="1757.5" cy="580.0" r="6"/>
</g>
<g fill="#70dc50"><polyline points="211.5,873.9 230.1,873.9 248.8,873.9 267.4,873.9 286.0,873.9 304.6,873.8 323.3,873.8 341.9,873.3 360.5,873.3 379.1,873.3 397.8,873.3 416.4,873.2 435.0,873.2 453.6,873.2 472.3,873.2 490.9,873.2 509.5,873.2 528.2,873.2 546.8,873.2 565.4,873.2 584.0,873.1 602.7,872.5 621.3,872.2 639.9,871.9 658.5,871.9 677.2,871.9 695.8,871.9 714.4,871.9 733.0,871.9 751.7,871.9 770.3,871.9 788.9,871.9 807.5,871.9 826.2,870.0 844.8,869.8 863.4,869.8 882.1,869.0 900.7,869.0 919.3,868.8 937.9,868.8 956.6,868.5 975.2,868.1 993.8,868.5 1012.4,866.9 1031.1,866.3 1049.7,864.4 1068.3,863.8 1086.9,862.8 1105.6,862.5 1124.2,862.4 1142.8,861.9 1161.5,861.9 1180.1,861.8 1198.7,861.8 1217.3,861.6 1236.0,861.6 1254.6,861.7 1273.2,861.8 1291.8,861.8 1310.5,861.5 1329.1,860.6 1347.7,860.6 1366.3,860.5 1385.0,860.0 1403.6,859.8 1422.2,857.5 1440.8,856.9 1459.5,855.6 1478.1,854.6 1496.7,853.6 1515.4,853.2 1534.0,852.1 1552.6,851.1 1571.2,850.2 1589.9,849.1 1608.5,848.0 1627.1,845.8 1645.7,843.6 1664.4,835.6 1683.0,818.1 1701.6,800.5 1720.2,782.3 1738.9,769.2 1757.5,757.0" fill="none" stroke="#70dc50" stroke-width="6" stroke-linejoin="round" clip-path="url(#pc)"/>
<circle cx="211.5" cy="873.9" r="6"/><circle cx="230.1" cy="873.9" r="6"/><circle cx="248.8" cy="873.9" r="6"/><circle cx="267.4" cy="873.9" r="6"/><circle cx="286.0" cy="873.9" r="6"/><circle cx="304.6" cy="873.8" r="6"/><circle cx="323.3" cy="873.8" r="6"/><circle cx="341.9" cy="873.3" r="6"/><circle cx="360.5" cy="873.3" r="6"/><circle cx="379.1" cy="873.3" r="6"/><circle cx="397.8" cy="873.3" r="6"/><circle cx="416.4" cy="873.2" r="6"/><circle cx="435.0" cy="873.2" r="6"/><circle cx="453.6" cy="873.2" r="6"/><circle cx="472.3" cy="873.2" r="6"/><circle cx="490.9" cy="873.2" r="6"/><circle cx="509.5" cy="873.2" r="6"/><circle cx="528.2" cy="873.2" r="6"/><circle cx="546.8" cy="873.2" r="6"/><circle cx="565.4" cy="873.2" r="6"/><circle cx="584.0" cy="873.1" r="6"/><circle cx="602.7" cy="872.5" r="6"/><circle cx="621.3" cy="872.2" r="6"/><circle cx="639.9" cy="871.9" r="6"/><circle cx="658.5" cy="871.9" r="6"/><circle cx="677.2" cy="871.9" r="6"/><circle cx="695.8" cy="871.9" r="6"/><circle cx="714.4" cy="871.9" r="6"/><circle cx="733.0" cy="871.9" r="6"/><circle cx="751.7" cy="871.9" r="6"/><circle cx="770.3" cy="871.9" r="6"/><circle cx="788.9" cy="871.9" r="6"/><circle cx="807.5" cy="871.9" r="6"/><circle cx="826.2" cy="870.0" r="6"/><circle cx="844.8" cy="869.8" r="6"/><circle cx="863.4" cy="869.8" r="6"/><circle cx="882.1" cy="869.0" r="6"/><circle cx="900.7" cy="869.0" r="6"/><circle cx="919.3" cy="868.8" r="6"/><circle cx="937.9" cy="868.8" r="6"/><circle cx="956.6" cy="868.5" r="6"/><circle cx="975.2" cy="868.1" r="6"/><circle cx="993.8" cy="868.5" r="6"/><circle cx="1012.4" cy="866.9" r="6"/><circle cx="1031.1" cy="866.3" r="6"/><circle cx="1049.7" cy="864.4" r="6"/><circle cx="1068.3" cy="863.8" r="6"/><circle cx="1086.9" cy="862.8" r="6"/><circle cx="1105.6" cy="862.5" r="6"/><circle cx="1124.2" cy="862.4" r="6"/><circle cx="1142.8" cy="861.9" r="6"/><circle cx="1161.5" cy="861.9" r="6"/><circle cx="1180.1" cy="861.8" r="6"/><circle cx="1198.7" cy="861.8" r="6"/><circle cx="1217.3" cy="861.6" r="6"/><circle cx="1236.0" cy="861.6" r="6"/><circle cx="1254.6" cy="861.7" r="6"/><circle cx="1273.2" cy="861.8" r="6"/><circle cx="1291.8" cy="861.8" r="6"/><circle cx="1310.5" cy="861.5" r="6"/><circle cx="1329.1" cy="860.6" r="6"/><circle cx="1347.7" cy="860.6" r="6"/><circle cx="1366.3" cy="860.5" r="6"/><circle cx="1385.0" cy="860.0" r="6"/><circle cx="1403.6" cy="859.8" r="6"/><circle cx="1422.2" cy="857.5" r="6"/><circle cx="1440.8" cy="856.9" r="6"/><circle cx="1459.5" cy="855.6" r="6"/><circle cx="1478.1" cy="854.6" r="6"/><circle cx="1496.7" cy="853.6" r="6"/><circle cx="1515.4" cy="853.2" r="6"/><circle cx="1534.0" cy="852.1" r="6"/><circle cx="1552.6" cy="851.1" r="6"/><circle cx="1571.2" cy="850.2" r="6"/><circle cx="1589.9" cy="849.1" r="6"/><circle cx="1608.5" cy="848.0" r="6"/><circle cx="1627.1" cy="845.8" r="6"/><circle cx="1645.7" cy="843.6" r="6"/><circle cx="1664.4" cy="835.6" r="6"/><circle cx="1683.0" cy="818.1" r="6"/><circle cx="1701.6" cy="800.5" r="6"/><circle cx="1720.2" cy="782.3" r="6"/><circle cx="1738.9" cy="769.2" r="6"/><circle cx="1757.5" cy="757.0" r="6"/>
</g>
<rect x="45" y="997" width="20" height="12" fill="#00a2ff"/><circle cx="55" cy="1002" r="6.1" fill="#00a2ff"/>
<text transform="translate(66.11,1015.9) scale(0.9311,1)" font-size="40.4">G7 less Canada</text>
<rect x="381.7" y="997" width="20" height="12" fill="#61d836"/><circle cx="391.7" cy="1002" r="6.1" fill="#61d836"/>
<text transform="translate(404.13,1015.9) scale(0.9558,1)" font-size="40.4">Top 5 immigration sources</text>
<rect x="890" y="1000" width="19" height="6" fill="#f8ba00"/><circle cx="899.4" cy="1002.1" r="6.1" fill="#f8ba00"/>
<text transform="translate(910.38,1015.9) scale(0.9534,1)" font-size="40.4">ON</text>
<rect x="1002" y="1000" width="19" height="6" fill="#ff2600"/><circle cx="1011.4" cy="1002.1" r="6.1" fill="#ff2600"/>
<text transform="translate(1023.74,1015.9) scale(0.9189,1)" font-size="40.4">QC</text>
<rect x="1114" y="1000" width="19" height="6" fill="#be4888"/><circle cx="1123.4" cy="1002.1" r="6.1" fill="#be4888"/>
<text transform="translate(1133.82,1015.9) scale(0.9599,1)" font-size="40.4">BC</text>
<rect x="1222" y="1000" width="19" height="6" fill="#5e5e5e"/><circle cx="1231.4" cy="1002.1" r="6.1" fill="#5e5e5e"/>
<text transform="translate(1243.13,1015.9) scale(0.9502,1)" font-size="40.4">AB</text>
<rect x="1328" y="1000" width="19" height="6" fill="#21acff"/><circle cx="1337.4" cy="1002.1" r="6.1" fill="#21acff"/>
<text transform="translate(1347.82,1015.9) scale(0.9599,1)" font-size="40.4">MB, SK</text>
<rect x="1514" y="1000" width="19" height="6" fill="#70dc50"/><circle cx="1523.4" cy="1002.1" r="6.1" fill="#70dc50"/>
<text transform="translate(1535.22,1015.9) scale(0.9619,1)" font-size="40.4">Atlantic</text>
</svg></body></html>
